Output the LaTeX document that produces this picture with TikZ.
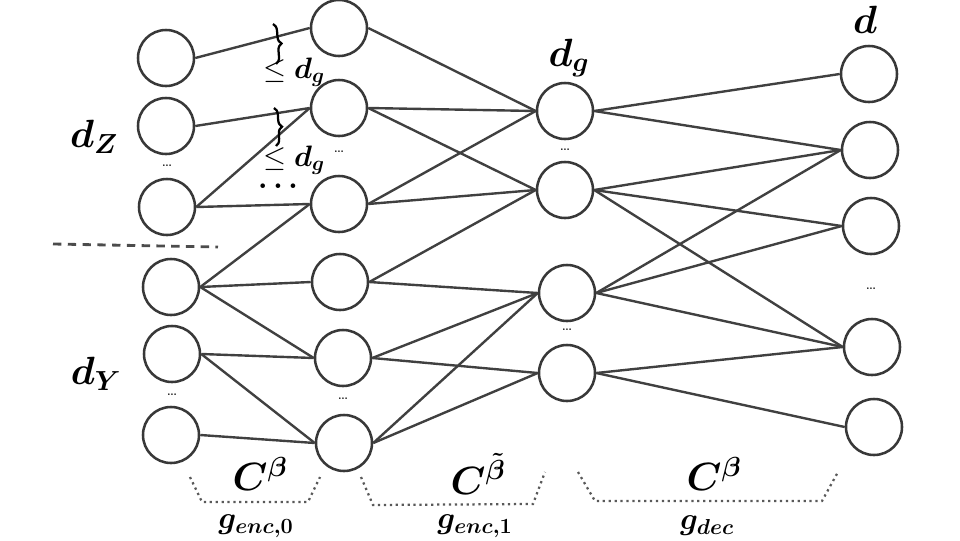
\RequirePackage{fix-cm}
\documentclass[tikz,border=0pt]{standalone}
\usepackage{bm}
\usetikzlibrary{positioning,decorations.pathreplacing}
\tikzset{neuron/.style={circle,draw=black!78,line width=1.8pt,
    minimum size=1.4cm,inner sep=0pt},
  conn/.style={draw=black!75,line width=1.7pt},
  sdots/.style={inner sep=0pt,font=\fontsize{12}{14}\selectfont},
  biglabel/.style={inner sep=0pt,font=\fontsize{28}{32}\selectfont},
  midlabel/.style={inner sep=0pt,font=\fontsize{22}{26}\selectfont},
  smalllabel/.style={inner sep=0pt,font=\fontsize{21}{24}\selectfont},
  layerbox/.style={draw=black!65,line width=1.6pt,
    dash pattern=on 1.6pt off 2.6pt}}

\begin{document}
\begin{tikzpicture}[x=0.025cm,y=-0.025cm]
    \useasboundingbox (0,0) rectangle (960,540);

    % input layer
    \node (a1) at (166,58) [neuron] {};
    \node (a2) at (166,126) [neuron] {};
    \node (a3) at (167,207) [neuron] {};
    \node (a4) at (171,287) [neuron] {};
    \node (a5) at (172,354) [neuron] {};
    \node (a6) at (171,435) [neuron] {};
    % encoder layer
    \node (b1) at (339,28) [neuron] {};
    \node (b2) at (339,108) [neuron] {};
    \node (b3) at (339,204) [neuron] {};
    \node (b4) at (340,282) [neuron] {};
    \node (b5) at (343,358) [neuron] {};
    \node (b6) at (344,443) [neuron] {};
    % latent layer
    \node (c1) at (565,111) [neuron] {};
    \node (c2) at (565,190) [neuron] {};
    \node (c3) at (567,293) [neuron] {};
    \node (c4) at (567,373) [neuron] {};
    % output layer
    \node (d1) at (869,74) [neuron] {};
    \node (d2) at (870,150) [neuron] {};
    \node (d3) at (871,226) [neuron] {};
    \node (d4) at (872,347) [neuron] {};
    \node (d5) at (874,427) [neuron] {};

    \node (da) at (167,166) [sdots] {\dots};
    \node (db) at (172,395) [sdots] {\dots};
    \node (dc) at (339,152) [sdots] {\dots};
    \node (dd) at (343,399) [sdots] {\dots};
    \node (de) at (565,150) [sdots] {\dots};
    \node (df) at (567,330) [sdots] {\dots};
    \node (dg) at (871,289) [sdots] {\dots};

    \path[conn] (a1.east) edge (b1.west);
    \path[conn] (a2.east) edge (b2.west);
    \path[conn] (a3.east) edge (b2.west) edge (b3.west);
    \path[conn] (a4.east) edge (b3.west) edge (b4.west) edge (b5.west);
    \path[conn] (a5.east) edge (b5.west) edge (b6.west);
    \path[conn] (a6.east) edge (b6.west);

    \path[conn] (b1.east) edge (c1.west);
    \path[conn] (b2.east) edge (c1.west) edge (c2.west);
    \path[conn] (b3.east) edge (c1.west) edge (c2.west);
    \path[conn] (b4.east) edge (c2.west) edge (c3.west);
    \path[conn] (b5.east) edge (c3.west) edge (c4.west);
    \path[conn] (b6.east) edge (c3.west) edge (c4.west);

    \path[conn] (c1.east) edge (d1.west) edge (d2.west);
    \path[conn] (c2.east) edge (d2.west) edge (d3.west) edge (d4.west);
    \path[conn] (c3.east) edge (d2.west) edge (d3.west) edge (d4.west);
    \path[conn] (c4.east) edge (d4.west) edge (d5.west);

    % dimensions
    \node (dz) at (94,137) [biglabel] {$\bm{d_Z}$};
    \node (dy) at (96,374) [biglabel] {$\bm{d_Y}$};
    \node (dgl) at (569,58) [biglabel] {$\bm{d_g}$};
    \node (dl) at (865,20) [biglabel] {$\bm{d}$};

    \draw[line width=1.6pt,decorate,decoration={brace,amplitude=5pt}]
      (273,24) -- (276,64);
    \draw[line width=1.6pt,decorate,decoration={brace,amplitude=5pt}]
      (274,108) -- (276,146);
    \node (le1) at (294,72) [smalllabel] {$\leq \bm{d_g}$};
    \node (le2) at (294,160) [smalllabel] {$\leq \bm{d_g}$};
    \node (bd) at (278,186) [smalllabel] {$\bm{\dots}$};

    \draw[black!70,line width=2pt,dash pattern=on 6pt off 4.5pt]
      (53,244) -- (218,247);

    % layer groups
    \draw[layerbox] (190,477) -- (202,502) -- (308,502) -- (320,477);
    \draw[layerbox] (361,477) -- (373,505) -- (533,504) -- (545,472);
    \draw[layerbox] (578,472) -- (595,501) -- (822,501) -- (838,472);
    \node (cb1) at (260,474) [biglabel] {$\bm{C^{\beta}}$};
    \node (cb2) at (478,474) [biglabel] {$\bm{C^{\tilde{\beta}}}$};
    \node (cb3) at (714,474) [biglabel] {$\bm{C^{\beta}}$};
    \node (g0) at (256,526) [midlabel] {$\bm{g_{enc,0}}$};
    \node (g1) at (475,526) [midlabel] {$\bm{g_{enc,1}}$};
    \node (g2) at (707,526) [midlabel] {$\bm{g_{dec}}$};
\end{tikzpicture}
\end{document}
